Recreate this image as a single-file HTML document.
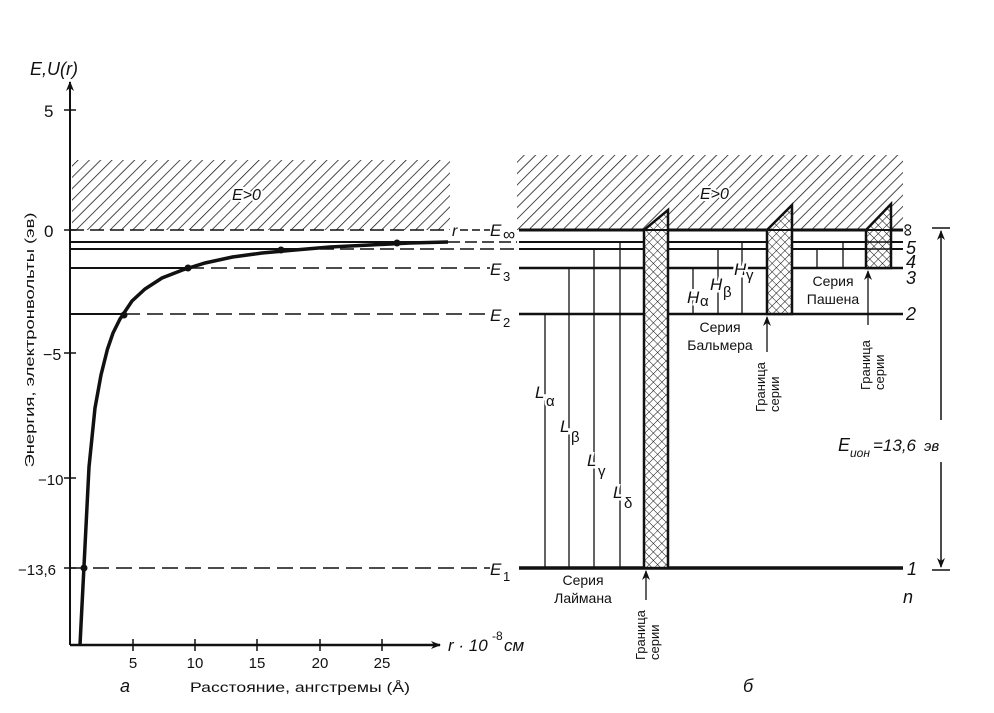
<!DOCTYPE html>
<html><head><meta charset="utf-8"><style>
html,body{margin:0;padding:0;background:#fff}
svg{display:block}
text{font-family:"Liberation Sans",sans-serif;fill:#111}
.it{font-style:italic}
</style></head><body>
<svg width="994" height="713" viewBox="0 0 994 713" xmlns="http://www.w3.org/2000/svg">
<defs>
<pattern id="h" width="8" height="8" patternUnits="userSpaceOnUse" patternTransform="rotate(45)">
<line x1="0" y1="0" x2="0" y2="8" stroke="#111" stroke-width="1.5"/>
</pattern>
<pattern id="x" width="6" height="6" patternUnits="userSpaceOnUse" patternTransform="rotate(45)">
<rect width="6" height="6" fill="#fff"/>
<line x1="0" y1="0" x2="0" y2="6" stroke="#111" stroke-width="1"/>
<line x1="0" y1="0" x2="6" y2="0" stroke="#111" stroke-width="1"/>
</pattern>
<marker id="ar" markerWidth="10" markerHeight="10" refX="9" refY="5" orient="auto" markerUnits="userSpaceOnUse">
<path d="M0,1 L10,5 L0,9 L3,5 Z" fill="#111"/>
</marker>
</defs>

<rect x="72" y="160" width="378" height="70" fill="url(#h)"/>
<rect x="517" y="155" width="386" height="75" fill="url(#h)"/>
<text x="232" y="200" font-size="16" class="it" style="paint-order:stroke" stroke="#fff" stroke-width="4">E&gt;0</text>
<text x="700" y="199" font-size="16" class="it" style="paint-order:stroke" stroke="#fff" stroke-width="4">E&gt;0</text>

<line x1="70" y1="645" x2="70" y2="82" stroke="#111" stroke-width="2" marker-end="url(#ar)"/>
<line x1="70" y1="645" x2="440" y2="645" stroke="#111" stroke-width="2.5" marker-end="url(#ar)"/>
<g stroke="#111" stroke-width="1.5">
<line x1="64" y1="110" x2="76" y2="110"/><line x1="64" y1="230" x2="76" y2="230"/>
<line x1="64" y1="353" x2="76" y2="353"/><line x1="64" y1="478" x2="76" y2="478"/>
<line x1="64" y1="568" x2="76" y2="568"/>
<line x1="133" y1="639" x2="133" y2="651"/><line x1="195" y1="639" x2="195" y2="651"/>
<line x1="257" y1="639" x2="257" y2="651"/><line x1="320" y1="639" x2="320" y2="651"/>
<line x1="382" y1="639" x2="382" y2="651"/>
</g>
<text x="44" y="117" font-size="17">5</text>
<text x="44" y="237" font-size="17">0</text>
<text x="43" y="360" font-size="16">−5</text>
<text x="38" y="485" font-size="15">−10</text>
<text x="18" y="575" font-size="15">−13,6</text>
<g font-size="15" text-anchor="middle">
<text x="133" y="668">5</text><text x="195" y="668">10</text><text x="257" y="668">15</text><text x="320" y="668">20</text><text x="382" y="668">25</text>
</g>
<text x="30" y="75" font-size="18" class="it">E,U(r)</text>
<text transform="translate(34,340) rotate(-90)" font-size="13" text-anchor="middle" textLength="255" lengthAdjust="spacingAndGlyphs">Энергия, электронвольты (эв)</text>
<text x="190" y="692" font-size="14" textLength="220" lengthAdjust="spacingAndGlyphs">Расстояние, ангстремы (Å)</text>
<text x="448" y="651" font-size="17" class="it">r · 10</text>
<text x="492" y="640" font-size="12">-8</text>
<text x="504" y="651" font-size="17" class="it">см</text>
<text x="120" y="692" font-size="18" class="it">а</text>
<text x="743" y="692" font-size="18" class="it">б</text>

<g stroke="#111" stroke-width="1.5" fill="none">
<line x1="70" y1="230" x2="448" y2="230" stroke-dasharray="14,6"/>
<line x1="460" y1="230" x2="490" y2="230" stroke-dasharray="8,4"/>
<line x1="70" y1="242" x2="448" y2="242" stroke-width="2"/>
<line x1="448" y1="242" x2="517" y2="242" stroke-dasharray="12,5"/>
<line x1="70" y1="249" x2="300" y2="249" stroke-width="2"/>
<line x1="300" y1="249" x2="517" y2="249" stroke-dasharray="14,6"/>
<line x1="70" y1="268" x2="188" y2="268" stroke-width="2"/>
<line x1="188" y1="268" x2="490" y2="268" stroke-dasharray="16,7"/>
<line x1="70" y1="314" x2="124" y2="314" stroke-width="2"/>
<line x1="124" y1="314" x2="490" y2="314" stroke-dasharray="16,7"/>
<line x1="70" y1="568" x2="490" y2="568" stroke-dasharray="16,7"/>
</g>
<polyline fill="none" stroke="#111" stroke-width="3.5" points="80,645 81,625 84,566 89,467 95,408 101,375 107.5,349 113,333 120,319 132,301 145,289 162,278 182.5,270 205,263 232.5,257 262,253 295,250 330,247 370,245 410,243 448,242"/>
<g fill="#111">
<circle cx="84" cy="568" r="3.5"/><circle cx="124" cy="315" r="3.5"/><circle cx="188" cy="268" r="3.5"/><circle cx="281" cy="250" r="3.5"/><circle cx="397" cy="243" r="3.5"/>
</g>
<text x="452" y="236" font-size="16" class="it">r</text>
<text x="490" y="236" font-size="17" class="it">E</text><text x="503" y="240" font-size="17">∞</text>
<text x="490" y="275" font-size="17" class="it">E</text><text x="503" y="281" font-size="13">3</text>
<text x="490" y="321" font-size="17" class="it">E</text><text x="503" y="327" font-size="13">2</text>
<text x="490" y="575" font-size="17" class="it">E</text><text x="503" y="581" font-size="13">1</text>

<g stroke="#111">
<line x1="519" y1="230" x2="903" y2="230" stroke-width="3"/>
<line x1="519" y1="242" x2="903" y2="242" stroke-width="2"/>
<line x1="519" y1="249" x2="903" y2="249" stroke-width="2"/>
<line x1="519" y1="268" x2="903" y2="268" stroke-width="2.5"/>
<line x1="519" y1="314" x2="903" y2="314" stroke-width="2.5"/>
<line x1="519" y1="568" x2="903" y2="568" stroke-width="3.5"/>
</g>
<g stroke="#111" stroke-width="1.3">
<line x1="545" y1="568" x2="545" y2="314"/>
<line x1="569" y1="568" x2="569" y2="268"/>
<line x1="594" y1="568" x2="594" y2="249"/>
<line x1="620" y1="568" x2="620" y2="242"/>
<line x1="693" y1="314" x2="693" y2="268"/>
<line x1="718" y1="314" x2="718" y2="249"/>
<line x1="742" y1="314" x2="742" y2="242"/>
<line x1="817" y1="268" x2="817" y2="249"/>
<line x1="843" y1="268" x2="843" y2="242"/>
</g>
<g stroke="#111" stroke-width="2.5">
<path d="M644,568 L644,230 L668,210 L668,568 Z" fill="url(#x)"/>
<path d="M767,314 L767,230 L792,205 L792,314 Z" fill="url(#x)"/>
<path d="M866,268 L866,230 L891,204 L891,268 Z" fill="url(#x)"/>
</g>
<g stroke="#111" stroke-width="2">
<line x1="644" y1="230" x2="668" y2="230"/><line x1="767" y1="230" x2="792" y2="230"/><line x1="866" y1="230" x2="891" y2="230"/>
<line x1="866" y1="242" x2="891" y2="242" stroke-width="1.5"/><line x1="866" y1="249" x2="891" y2="249" stroke-width="1.5"/>
</g>

<g font-size="17" class="it" style="paint-order:stroke" stroke="#fff" stroke-width="5">
<text x="535" y="398">L</text><text x="560" y="432">L</text><text x="587" y="466">L</text><text x="613" y="498">L</text>
<text x="687" y="303">H</text><text x="710" y="290">H</text><text x="734" y="275">H</text>
</g>
<g font-size="15" style="paint-order:stroke" stroke="#fff" stroke-width="4">
<text x="546" y="406">α</text><text x="571" y="442">β</text><text x="598" y="476">γ</text><text x="624" y="508">δ</text>
<text x="700" y="306">α</text><text x="723" y="297">β</text><text x="746" y="280">γ</text>
</g>
<g font-size="14" text-anchor="middle">
<text x="583" y="585">Серия</text><text x="583" y="603">Лаймана</text>
<text x="720" y="332">Серия</text><text x="720" y="350">Бальмера</text>
<text x="833" y="286">Серия</text><text x="833" y="304">Пашена</text>
</g>
<g font-size="13">
<text transform="translate(645,660) rotate(-90)">Граница</text><text transform="translate(659,660) rotate(-90)">серии</text>
<text transform="translate(765,412) rotate(-90)">Граница</text><text transform="translate(779,412) rotate(-90)">серии</text>
<text transform="translate(870,390) rotate(-90)">Граница</text><text transform="translate(884,390) rotate(-90)">серии</text>
</g>
<g stroke="#111" stroke-width="1.3">
<line x1="646" y1="600" x2="646" y2="571" marker-end="url(#ar)"/>
<line x1="767" y1="352" x2="767" y2="317" marker-end="url(#ar)"/>
<line x1="868" y1="325" x2="868" y2="271" marker-end="url(#ar)"/>
</g>
<g font-size="18" class="it">
<text x="906" y="254">5</text><text x="906" y="268">4</text><text x="906" y="284">3</text><text x="906" y="320">2</text><text x="907" y="575">1</text><text x="903" y="603">n</text>
</g>
<text transform="translate(913,230) rotate(-90)" font-size="18" text-anchor="middle">∞</text>
<g stroke="#111" stroke-width="1.5">
<line x1="932" y1="228" x2="950" y2="228"/>
<line x1="932" y1="570" x2="950" y2="570"/>
<line x1="941" y1="420" x2="941" y2="231" marker-end="url(#ar)"/>
<line x1="941" y1="462" x2="941" y2="567" marker-end="url(#ar)"/>
</g>
<text x="838" y="451" font-size="18" class="it">E</text>
<text x="850" y="457" font-size="12" class="it">ион</text>
<text x="873" y="451" font-size="17" class="it">=13,6</text>
<text x="924" y="451" font-size="15" class="it">эв</text>
</svg>
</body></html>
